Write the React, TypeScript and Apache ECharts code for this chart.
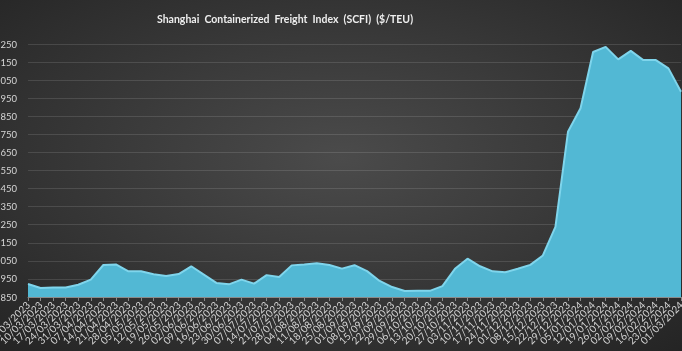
import React, { useEffect, useRef } from "react";
import * as echarts from "echarts";

const titleText = "Shanghai  Containerized  Freight  Index  (SCFI)  ($/TEU)";

const dates = [
  "03/03/2023", "10/03/2023", "17/03/2023", "24/03/2023", "31/03/2023",
  "07/04/2023", "14/04/2023", "21/04/2023", "28/04/2023", "05/05/2023",
  "12/05/2023", "19/05/2023", "26/05/2023", "02/06/2023", "09/06/2023",
  "16/06/2023", "23/06/2023", "30/06/2023", "07/07/2023", "14/07/2023",
  "21/07/2023", "28/07/2023", "04/08/2023", "11/08/2023", "18/08/2023",
  "25/08/2023", "01/09/2023", "08/09/2023", "15/09/2023", "22/09/2023",
  "29/09/2023", "06/10/2023", "13/10/2023", "20/10/2023", "27/10/2023",
  "03/11/2023", "10/11/2023", "17/11/2023", "24/11/2023", "01/12/2023",
  "08/12/2023", "15/12/2023", "22/12/2023", "29/12/2023", "05/01/2024",
  "12/01/2024", "19/01/2024", "26/01/2024", "02/02/2024", "09/02/2024",
  "16/02/2024", "23/02/2024", "01/03/2024",
];

const scfiValues = [
  922, 900, 902, 903, 918, 946, 1027, 1030, 992, 992,
  976, 966, 977, 1020, 974, 928, 920, 946, 924, 971,
  961, 1025, 1030, 1037, 1027, 1007, 1026, 993, 939, 905,
  883, 884, 884, 910, 1006, 1062, 1020, 992, 987, 1006,
  1028, 1080, 1238, 1764, 1894, 2206, 2234, 2165, 2212, 2161,
  2161, 2115, 1986,
];

const yMin = 850;
const yMax = 2250;
const yStep = 100;

export default function App() {
  const ref = useRef<HTMLDivElement>(null);

  useEffect(() => {
    if (!ref.current) return;
    const chart = echarts.init(ref.current, undefined, { renderer: "svg" });
    chart.setOption({
      animation: false,
      backgroundColor: {
        type: "radial",
        x: 0.5,
        y: 0.45,
        r: 0.75,
        colorStops: [
          { offset: 0, color: "#4b4b4b" },
          { offset: 1, color: "#242424" },
        ],
      },
      title: {
        text: titleText,
        left: 152,
        top: 8,
        textStyle: {
          color: "#eeeeee",
          fontSize: 10.5,
          fontWeight: "bold",
          fontFamily: "Lato",
        },
      },
      grid: {
        left: 28,
        right: 1,
        top: 44,
        bottom: 54,
        containLabel: false,
        outerBoundsMode: "none",
      },
      xAxis: {
        type: "category",
        data: dates,
        boundaryGap: false,
        axisLine: { lineStyle: { color: "#8a8a8a", width: 1 } },
        axisTick: { show: true, length: 4, lineStyle: { color: "#8a8a8a" }, interval: 0 },
        axisLabel: {
          interval: 0,
          rotate: 45,
          color: "#d6d6d6",
          fontSize: 10,
          fontFamily: "Lato",
          margin: 6,
        },
        splitLine: { show: false },
      },
      yAxis: {
        type: "value",
        min: yMin,
        max: yMax,
        interval: yStep,
        axisLine: { show: false },
        axisTick: { show: false },
        axisLabel: {
          color: "#d6d6d6",
          fontSize: 9.5,
          fontFamily: "Lato",
          margin: 11,
          formatter: (v: number) => String(v),
        },
        splitLine: { lineStyle: { color: "rgba(255,255,255,0.12)", width: 1 } },
      },
      series: [
        {
          type: "line",
          data: scfiValues,
          symbol: "none",
          lineStyle: { color: "#7fd5ec", width: 2 },
          areaStyle: { color: "#52b8d4", opacity: 1 },
          itemStyle: { color: "#52b8d4" },
        },
      ],
    });
    return () => chart.dispose();
  }, []);

  return (
    <div
      ref={ref}
      style={{ position: "fixed", left: 0, top: 0, width: 682, height: 351 }}
    />
  );
}
